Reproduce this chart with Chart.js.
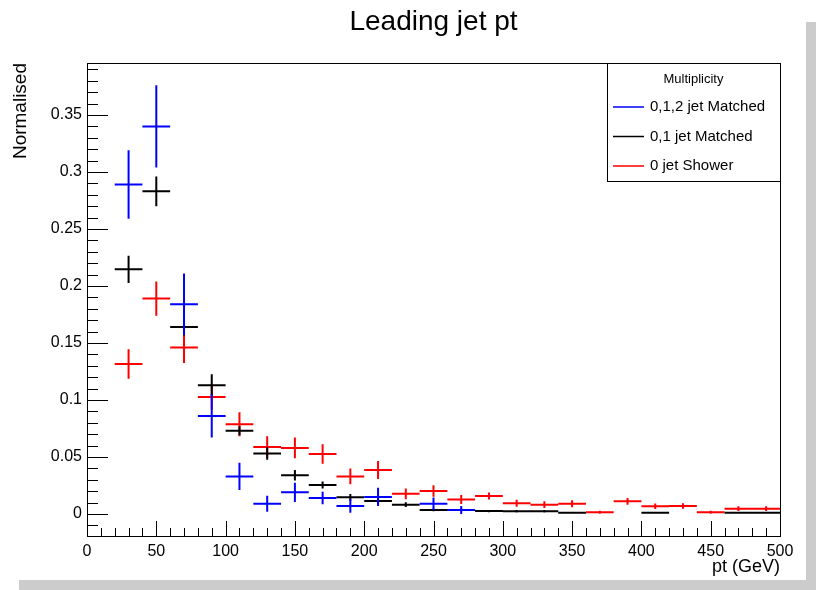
<!DOCTYPE html>
<html>
<head>
<meta charset="utf-8">
<title>Leading jet pt</title>
<script src="https://cdn.jsdelivr.net/npm/chart.js@4.4.0/dist/chart.umd.min.js"></script>
<style>
    html, body { margin: 0; padding: 0; background: #ffffff; }
    #wrap { position: relative; width: 816px; height: 590px; }
</style>
</head>
<body>
<div id="wrap"><canvas id="grafico" width="816" height="590"></canvas></div>
<script>
// --- Data (bins of 20 GeV, centres) ---
const binCenters = [30, 50, 70, 90, 110, 130, 150, 170, 190, 210, 230, 250,
                    270, 290, 310, 330, 350, 370, 390, 410, 430, 450, 470, 490];
const binHalfWidth = 10;

const seriesNames = ['0,1,2 jet Matched', '0,1 jet Matched', '0 jet Shower'];

const matched012 = [0.289, 0.340, 0.184, 0.086, 0.033, 0.009, 0.019, 0.014, 0.007, 0.015, null, 0.009,
                    0.0035, null, null, null, null, null, null, null, null, null, null, null];
const matched012Err = [0.030, 0.036, 0.027, 0.019, 0.012, 0.007, 0.0085, 0.0055, 0.006, 0.008, null, 0.0055,
                       0.0035, null, null, null, null, null, null, null, null, null, null, null];

const matched01 = [0.2146, 0.283, 0.164, 0.113, 0.073, 0.053, 0.034, 0.0254, 0.0146, 0.0114, 0.0082, 0.0036,
                   0.0036, 0.0026, 0.0024, 0.0024, 0.0012, null, null, 0.0012, null, null, 0.0012, 0.0012];
const matched01Err = [0.012, 0.013, 0.0075, 0.0095, 0.004, 0.0055, 0.0047, 0.003, 0.003, 0.003, 0.002, 0.0012,
                      0.0012, 0.001, 0.001, 0.001, 0.0008, null, null, 0.0008, null, null, 0.0008, 0.0008];

const shower0 = [0.1316, 0.189, 0.146, 0.1026, 0.0787, 0.0588, 0.058, 0.0526, 0.033, 0.0386, 0.0177, 0.0202,
                 0.0127, 0.0158, 0.0094, 0.0082, 0.009, 0.0015, 0.0111, 0.0068, 0.007, 0.0015, 0.0047, 0.0047];
const shower0Err = [0.013, 0.015, 0.0135, 0.011, 0.0105, 0.0095, 0.009, 0.0085, 0.007, 0.0078, 0.0047, 0.005,
                    0.004, 0.003, 0.003, 0.003, 0.003, 0.0013, 0.003, 0.0025, 0.0025, 0.0013, 0.002, 0.002];

const xTicks = [0, 50, 100, 150, 200, 250, 300, 350, 400, 450, 500];
const yTicks = [0, 0.05, 0.1, 0.15, 0.2, 0.25, 0.3, 0.35];

const FONTE = '"Liberation Sans", Arial, Helvetica, sans-serif';

// --- Build error-bar crosses as line pieces (null y breaks the line) ---
function montarCruzes(valores, erros) {
    const pts = [];
    binCenters.forEach((c, i) => {
        const v = valores[i];
        if (v === null) return;
        const e = erros[i];
        pts.push({ x: c - binHalfWidth, y: v }, { x: c + binHalfWidth, y: v }, { x: c, y: null });
        pts.push({ x: c, y: v - e }, { x: c, y: v + e }, { x: c, y: null });
    });
    return pts;
}

function serie(label, cor, valores, erros) {
    return {
        label: label,
        data: montarCruzes(valores, erros),
        borderColor: cor,
        backgroundColor: cor,
        borderWidth: 2,
        showLine: true,
        spanGaps: false,
        pointRadius: 0,
        pointHoverRadius: 0,
        tension: 0
    };
}

// --- ROOT-like frame, inward ticks, titles and legend box ---
const moldura = {
    id: 'moldura',
    beforeDraw(chart) {
        const ctx = chart.ctx;
        ctx.save();
        // canvas drop shadow
        ctx.fillStyle = '#cccccc';
        ctx.fillRect(806, 22, 10, 568);
        ctx.fillRect(19, 580, 797, 10);
        ctx.restore();
    },
    afterDraw(chart) {
        const ctx = chart.ctx;
        const { left, right, top, bottom } = chart.chartArea;
        const x = chart.scales.x;
        const y = chart.scales.y;
        ctx.save();
        ctx.strokeStyle = '#000000';
        ctx.lineWidth = 1;
        ctx.strokeRect(left + 0.5, top + 0.5, right - left, bottom - top);

        ctx.beginPath();
        for (let v = 0; v <= 500; v += 10) {
            const px = Math.round(x.getPixelForValue(v)) + 0.5;
            const len = v % 50 === 0 ? 15 : 8;
            ctx.moveTo(px, bottom);
            ctx.lineTo(px, bottom - len);
        }
        for (let k = -1; k <= 39; k++) {
            const v = k / 100;
            const py = Math.round(y.getPixelForValue(v)) + 0.5;
            if (py < top || py > bottom) continue;
            const len = k % 5 === 0 ? 21 : 11;
            ctx.moveTo(left, py);
            ctx.lineTo(left + len, py);
        }
        ctx.stroke();

        // title
        ctx.fillStyle = '#000000';
        ctx.font = '28px ' + FONTE;
        ctx.textAlign = 'center';
        ctx.textBaseline = 'middle';
        ctx.fillText('Leading jet pt', (left + right) / 2, 22);

        // axis titles
        ctx.font = '18px ' + FONTE;
        ctx.textAlign = 'right';
        ctx.textBaseline = 'middle';
        ctx.fillText('pt (GeV)', right, 567);
        ctx.save();
        ctx.translate(21, top);
        ctx.rotate(-Math.PI / 2);
        ctx.font = '19px ' + FONTE;
        ctx.textAlign = 'right';
        ctx.fillText('Normalised', 0, 0);
        ctx.restore();

        // legend
        const lx = 607, ly = top, lw = right - 607, lh = 118;
        ctx.fillStyle = '#ffffff';
        ctx.fillRect(lx, ly, lw, lh);
        ctx.strokeRect(lx + 0.5, ly + 0.5, lw, lh);
        ctx.fillStyle = '#000000';
        ctx.font = '13px ' + FONTE;
        ctx.textAlign = 'center';
        ctx.fillText('Multiplicity', lx + lw / 2, ly + 16);
        ctx.font = '15px ' + FONTE;
        ctx.textAlign = 'left';
        chart.data.datasets.forEach((ds, i) => {
            const ey = ly + 44 + i * 29.5;
            ctx.strokeStyle = ds.borderColor;
            ctx.lineWidth = 1.5;
            ctx.beginPath();
            ctx.moveTo(lx + 6, ey);
            ctx.lineTo(lx + 37, ey);
            ctx.stroke();
            ctx.fillText(ds.label, lx + 43, ey);
        });
        ctx.restore();
    }
};

const ctx = document.getElementById('grafico').getContext('2d');
const grafico = new Chart(ctx, {
    type: 'scatter',
    data: {
        datasets: [
            serie(seriesNames[0], '#0000ff', matched012, matched012Err),
            serie(seriesNames[1], '#000000', matched01, matched01Err),
            serie(seriesNames[2], '#ff0000', shower0, shower0Err)
        ]
    },
    options: {
        responsive: false,
        animation: false,
        layout: { padding: { top: 63, right: 36, left: 0, bottom: 0 } },
        plugins: {
            legend: { display: false },
            title: { display: false },
            tooltip: { enabled: false }
        },
        scales: {
            x: {
                type: 'linear',
                min: 0,
                max: 500,
                afterFit: (s) => { s.height = 54; },
                afterBuildTicks: (s) => { s.ticks = xTicks.map(v => ({ value: v })); },
                grid: { display: false, drawTicks: false },
                border: { display: false },
                ticks: {
                    padding: 6,
                    color: '#000000',
                    font: { family: FONTE, size: 16 },
                    maxRotation: 0,
                    callback: (v) => String(v)
                }
            },
            y: {
                type: 'linear',
                min: -0.0193,
                max: 0.3956,
                afterFit: (s) => { s.width = 87; },
                afterBuildTicks: (s) => { s.ticks = yTicks.map(v => ({ value: v })); },
                grid: { display: false, drawTicks: false },
                border: { display: false },
                ticks: {
                    padding: 5,
                    color: '#000000',
                    font: { family: FONTE, size: 16 },
                    callback: (v) => String(+Number(v).toFixed(2))
                }
            }
        }
    },
    plugins: [moldura]
});
</script>
</body>
</html>
